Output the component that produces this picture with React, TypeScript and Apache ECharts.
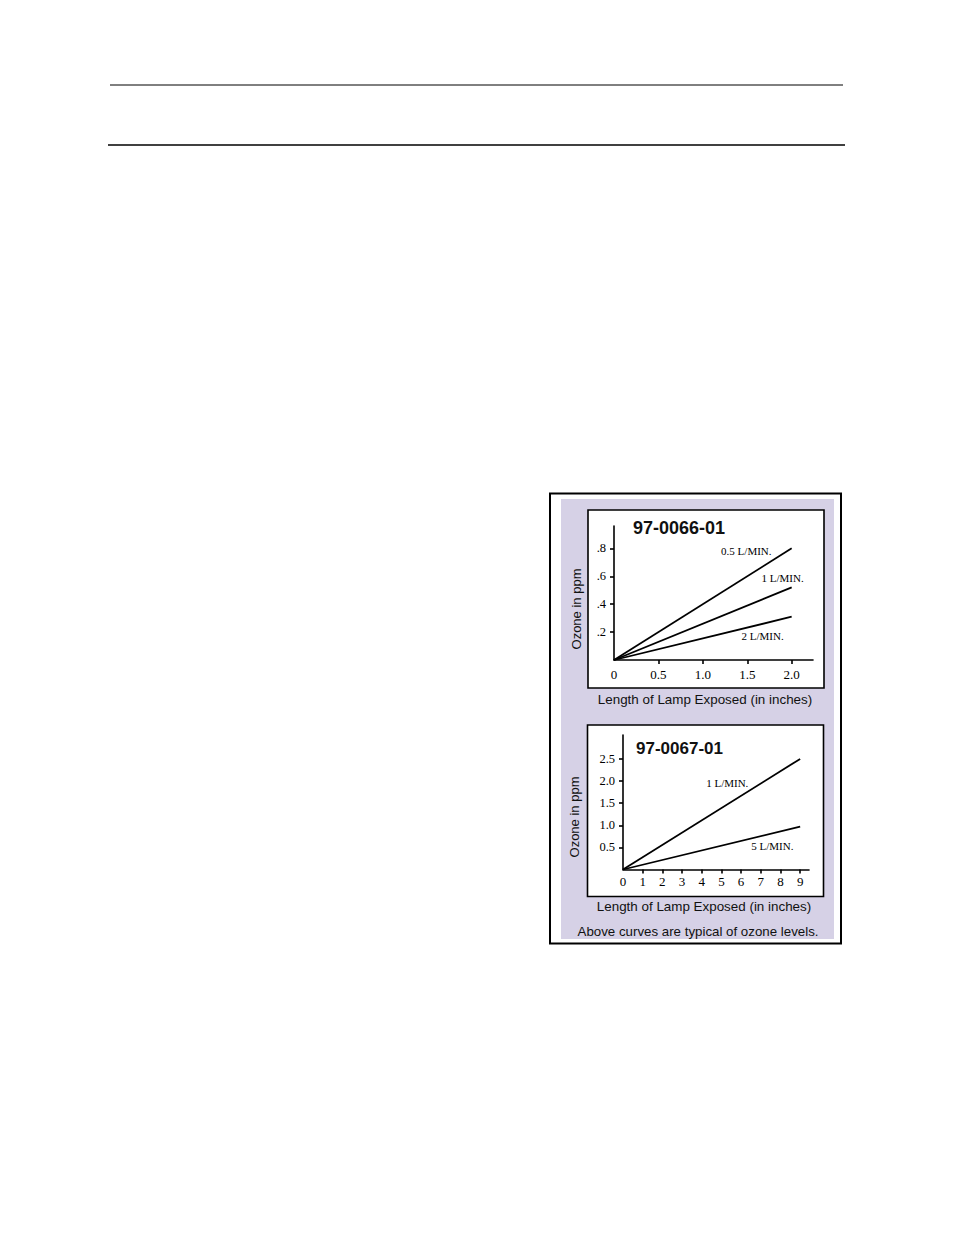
import React, { useRef, useEffect } from 'react';
import * as echarts from 'echarts';

// 97-0066-01 : ozone vs exposed lamp length (0 - 2 in)
const topLength = [0, 2.0];
const topFlow05 = [0, 0.8];
const topFlow1 = [0, 0.52];
const topFlow2 = [0, 0.31];
const topXTicks = [0, 0.5, 1.0, 1.5, 2.0];
const topYTicks = [0.2, 0.4, 0.6, 0.8];

// 97-0067-01 : ozone vs exposed lamp length (0 - 9 in)
const bottomLength = [0, 9];
const bottomFlow1 = [0, 2.5];
const bottomFlow5 = [0, 0.97];
const bottomXTicks = [0, 1, 2, 3, 4, 5, 6, 7, 8, 9];
const bottomYTicks = [0.5, 1.0, 1.5, 2.0, 2.5];

// where each flow-rate note sits, in data units
const topNotes = [
    { text: '0.5 L/MIN.', at: [1.2, 0.78] },
    { text: '1 L/MIN.', at: [1.655, 0.59] },
    { text: '2 L/MIN.', at: [1.43, 0.17] },
];
const bottomNotes = [
    { text: '1 L/MIN.', at: [4.2, 1.95] },
    { text: '5 L/MIN.', at: [6.49, 0.52] },
];

const SANS = 'Liberation Sans, Arial, sans-serif';
const SERIF = 'Liberation Serif, Times New Roman, serif';
const INK = '#000';

const pairs = (xs: number[], ys: number[]) => xs.map((x, i) => [x, ys[i]]);

const notePoints = (notes: { text: string, at: number[] }[]) => ({
    silent: true,
    symbol: 'circle',
    symbolSize: 1,
    itemStyle: { color: 'rgba(0,0,0,0)' },
    data: notes.map(n => ({
        coord: n.at,
        label: {
            show: true,
            position: 'right',
            distance: 0,
            formatter: n.text,
            fontFamily: SERIF,
            fontSize: 11,
            color: INK
        }
    }))
});

const lineSeries = (name: string, xIdx: number, data: number[][], notes?: any) => ({
    type: 'line',
    name,
    xAxisIndex: xIdx,
    yAxisIndex: xIdx,
    data,
    symbol: 'none',
    lineStyle: { color: '#000', width: 1.8 },
    markPoint: notes
});

const axisLineStyle = { color: '#000', width: 1.6 };

const valueAxis = (grid: number, max: number, ticks: number[], labels: number[], fmt: (v: number) => string, margin: number, size: number) => ({
    type: 'value',
    gridIndex: grid,
    min: 0,
    max,
    axisLine: { show: true, onZero: false, lineStyle: axisLineStyle },
    axisTick: { show: true, length: 4, customValues: ticks, lineStyle: axisLineStyle },
    axisLabel: {
        customValues: labels,
        formatter: fmt,
        margin,
        fontFamily: SERIF,
        fontSize: size,
        color: INK
    },
    splitLine: { show: false }
});

const text = (x: number, y: number, t: string, font: string, rotation = 0, align = 'center') => ({
    type: 'text',
    x,
    y,
    rotation,
    z: 20,
    style: { text: t, font, fill: '#111', align, verticalAlign: 'middle' }
});

export default function App() {
    const chartRef = useRef<HTMLDivElement>(null);

    useEffect(() => {
        if (!chartRef.current) return;
        const chart = echarts.init(chartRef.current, null, { renderer: 'svg' });

        const option: any = {
            animation: false,
            backgroundColor: '#fff',
            grid: [
                { left: 614, top: 526, width: 199, height: 134 },
                { left: 623, top: 735, width: 186, height: 134.5 }
            ],
            xAxis: [
                valueAxis(0, 2.24, topXTicks.filter(v => v > 0), topXTicks, v => (v === 0 ? '0' : v.toFixed(1)), 8, 13),
                valueAxis(1, 9.45, bottomXTicks.filter(v => v > 0), bottomXTicks, v => String(v), 5, 13)
            ],
            yAxis: [
                valueAxis(0, 0.96, topYTicks, topYTicks, v => v.toFixed(1).replace(/^0/, ''), 8, 12.5),
                valueAxis(1, 3.04, bottomYTicks, bottomYTicks, v => v.toFixed(1), 8, 12.5)
            ],
            series: [
                lineSeries('0.5 L/MIN.', 0, pairs(topLength, topFlow05), notePoints([topNotes[0]])),
                lineSeries('1 L/MIN.', 0, pairs(topLength, topFlow1), notePoints([topNotes[1]])),
                lineSeries('2 L/MIN.', 0, pairs(topLength, topFlow2), notePoints([topNotes[2]])),
                lineSeries('1 L/MIN. (97-0067-01)', 1, pairs(bottomLength, bottomFlow1), notePoints([bottomNotes[0]])),
                lineSeries('5 L/MIN. (97-0067-01)', 1, pairs(bottomLength, bottomFlow5), notePoints([bottomNotes[1]]))
            ],
            graphic: [
                // page rules
                { type: 'line', z: -10, shape: { x1: 110, y1: 85, x2: 843, y2: 85 }, style: { stroke: '#000', lineWidth: 1 } },
                { type: 'line', z: -10, shape: { x1: 108, y1: 145, x2: 845, y2: 145 }, style: { stroke: '#000', lineWidth: 1.5 } },
                // figure frame
                { type: 'rect', z: -10, shape: { x: 550, y: 493.5, width: 291, height: 450 }, style: { fill: '#fff', stroke: '#000', lineWidth: 2 } },
                { type: 'rect', z: -9, shape: { x: 561, y: 499, width: 273, height: 440 }, style: { fill: '#d6d1e6' } },
                { type: 'rect', z: -8, shape: { x: 588, y: 510, width: 236, height: 178 }, style: { fill: '#fff', stroke: '#000', lineWidth: 1.6 } },
                { type: 'rect', z: -8, shape: { x: 587.5, y: 725, width: 236, height: 171.5 }, style: { fill: '#fff', stroke: '#000', lineWidth: 1.6 } },
                // titles and axis names
                text(633, 528, '97-0066-01', `bold 18px ${SANS}`, 0, 'left'),
                text(636, 748, '97-0067-01', `bold 17px ${SANS}`, 0, 'left'),
                text(576, 609, 'Ozone in ppm', `13px ${SANS}`, Math.PI / 2),
                text(574, 817, 'Ozone in ppm', `13px ${SANS}`, Math.PI / 2),
                text(705, 699, 'Length of Lamp Exposed (in inches)', `13.4px ${SANS}`),
                text(704, 906.5, 'Length of Lamp Exposed (in inches)', `13.4px ${SANS}`),
                text(698, 931.5, 'Above curves are typical of ozone levels.', `13.3px ${SANS}`)
            ]
        };

        chart.setOption(option);

        return () => {
            chart.dispose();
        };
    }, []);

    return <div ref={chartRef} style={{ position: 'absolute', left: 0, top: 0, width: 954, height: 1235 }} />;
}
